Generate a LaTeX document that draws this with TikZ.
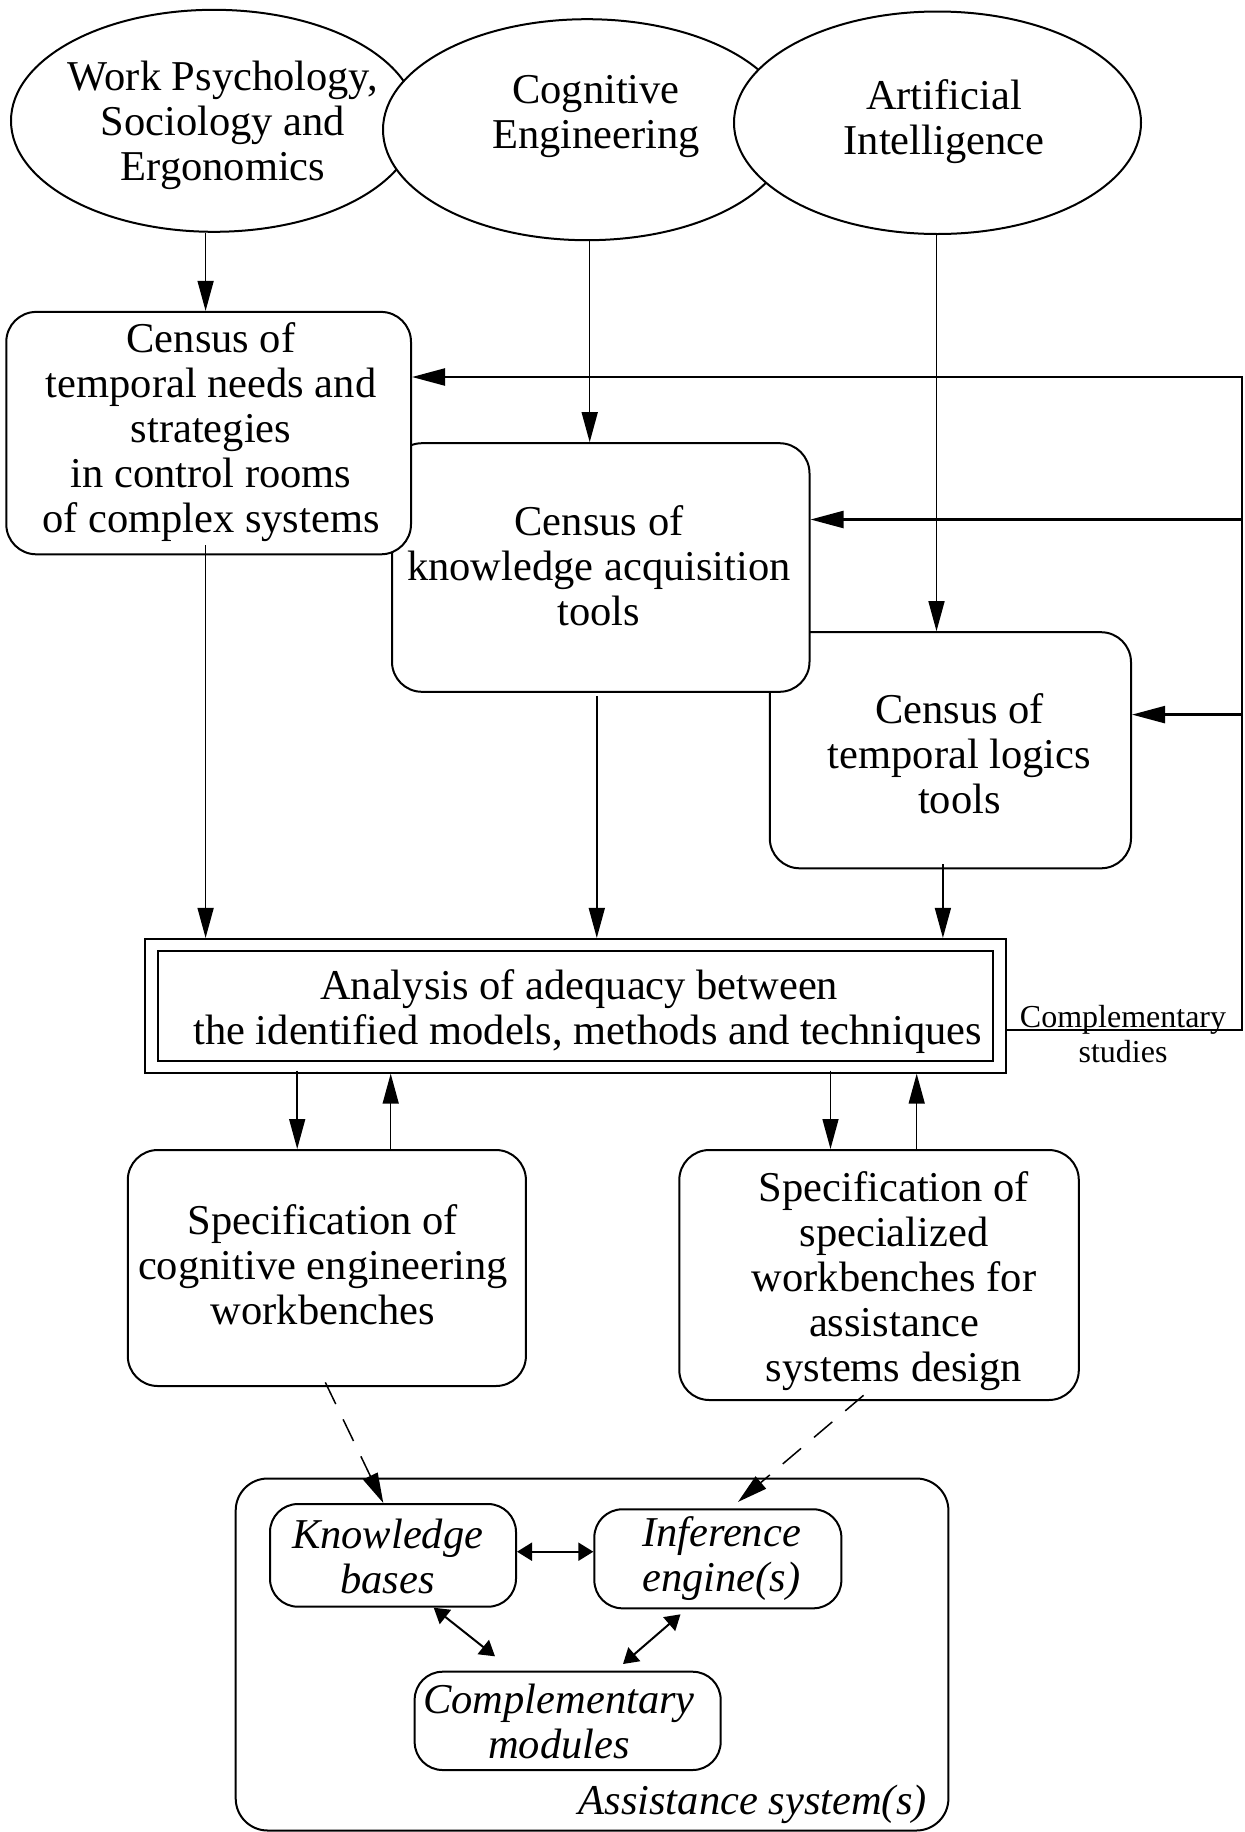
\documentclass[tikz,border=0pt]{standalone}
\usepackage{fontspec}
\setmainfont{Liberation Serif}
\usetikzlibrary{arrows.meta,shapes.geometric}
\begin{document}
\begin{tikzpicture}[x=1pt,y=-1pt,
  ell/.style={ellipse,draw,line width=2pt,fill=white,inner sep=0pt},
  boxr/.style={rectangle,draw,line width=2pt,rounded corners=30pt,fill=white,inner sep=0pt},
  boxs/.style={rectangle,draw,line width=2pt,rounded corners=28pt,fill=white,inner sep=0pt},
  boxsq/.style={rectangle,draw,line width=2pt,inner sep=0pt},
  txt/.style={align=center,font=\fontsize{42.5}{45}\selectfont,inner sep=0pt,yshift=-4pt,
    execute at begin node=\strut,execute at end node=\strut},
  itxt/.style={txt,font=\fontsize{42.5}{45}\selectfont\itshape},
  labtxt/.style={inner sep=0pt,font=\fontsize{42.5}{45}\selectfont\itshape},
  smalltxt/.style={align=center,font=\fontsize{32}{35.7}\selectfont,inner sep=0pt,yshift=-2.5pt,
    execute at begin node=\strut,execute at end node=\strut},
  arr/.style={line width=1.5pt,-{Triangle[length=30pt,width=16pt]}},
  fb/.style={line width=2.3pt,-{Triangle[length=33pt,width=17pt]}},
  dbl/.style={line width=2pt,{Triangle[length=15pt,width=18pt]}-{Triangle[length=15pt,width=18pt]}},
  dsh/.style={line width=1.5pt,dash pattern=on 24pt off 17pt,-{Triangle[length=30pt,width=16pt]}}
]
\useasboundingbox (0,0) rectangle (1245,1832);

% ellipses
\node[ell,minimum width=406pt,minimum height=222pt] (e1) at (214,120.8) {};
\node[txt] (e1t) at (223,123.8) {Work Psychology,\\Sociology and\\Ergonomics};
\node[ell,minimum width=408pt,minimum height=221pt] (e2) at (587,129.7) {};
\node[txt] (e2t) at (596,115) {Cognitive\\Engineering};
\node[ell,minimum width=407pt,minimum height=222.5pt] (e3) at (937.5,122.75) {};
\node[txt] (e3t) at (944,119.8) {Artificial\\Intelligence};

% census boxes
\node[boxr,minimum width=361.2pt,minimum height=236.1pt] (c3) at (950.4,750.25) {};
\node[txt] (c3t) at (959.5,756.15) {Census of\\temporal logics\\tools};
\node[boxr,minimum width=417.5pt,minimum height=248.6pt] (c2) at (600.75,567.5) {};
\node[txt] (c2t) at (599,568.65) {Census of\\knowledge acquisition\\tools};
\node[boxr,minimum width=404.7pt,minimum height=242.4pt] (c1) at (208.65,433.1) {};
\node[txt] (c1t) at (211,430.5) {Census of\\temporal needs and\\strategies\\in control rooms\\of complex systems};

% analysis
\node[boxsq,minimum width=860.5pt,minimum height=133.7pt] (an) at (575.55,1005.8) {};
\node[boxsq,minimum width=834.2pt,minimum height=110pt] (ani) at (575.5,1006) {};
\node[txt] (ant) at (579.2,1010.2) {Analysis of adequacy between\\\hspace*{16.8pt}the identified models, methods and techniques};
\node[smalltxt] (cs) at (1123,1036.7) {Complementary\\studies};

% specification boxes
\node[boxr,minimum width=398.1pt,minimum height=236pt] (s1) at (326.85,1268) {};
\node[txt] (s1t) at (322.8,1267.2) {Specification of\\cognitive engineering\\workbenches};
\node[boxr,minimum width=399.5pt,minimum height=250pt] (s2) at (879.05,1275) {};
\node[txt] (s2t) at (894,1278.8) {Specification of\\specialized\\workbenches for\\assistance\\systems design};

% assistance system
\node[boxr,rounded corners=32pt,minimum width=712.7pt,minimum height=352pt] (as) at (592.05,1654.5) {};
\node[labtxt,anchor=base east] (ast) at (927,1814) {Assistance system(s)};
\node[boxs,minimum width=246pt,minimum height=102.7pt] (kb) at (393,1555.35) {};
\node[itxt] (kbt) at (387.7,1559.35) {Knowledge\\bases};
\node[boxs,minimum width=247pt,minimum height=99pt] (ie) at (717.85,1558.8) {};
\node[itxt] (iet) at (721.5,1556.8) {Inference\\engine(s)};
\node[boxs,minimum width=306pt,minimum height=98.3pt] (cm) at (567.65,1720.85) {};
\node[itxt] (cmt) at (559,1723.5) {Complementary\\modules};

% x positions of vertical connectors
\coordinate (xa) at (205.6,0);
\coordinate (xb) at (589.7,0);
\coordinate (xc) at (936.5,0);
\coordinate (xd) at (596.8,0);
\coordinate (xe) at (942.9,0);
\coordinate (xf) at (297.2,0);
\coordinate (xg) at (390.7,0);
\coordinate (xh) at (830.5,0);
\coordinate (xi) at (916.7,0);

\draw[arr] (e1.south -| xa) -- (c1.north -| xa);
\draw[arr] (e2.south -| xb) -- (c2.north -| xb);
\draw[arr] (e3.south -| xc) -- (c3.north -| xc);
\draw[arr] ([yshift=10pt]c1.south -| xa) -- (an.north -| xa);
\draw[arr] ([yshift=-3pt]c2.south -| xd) -- (an.north -| xd);
\draw[arr] ([yshift=5pt]c3.south -| xe) -- (an.north -| xe);

\draw[arr] ([yshift=3pt]an.south -| xf) -- (s1.north -| xf);
\draw[arr] (s1.north -| xg) -- (an.south -| xg);
\draw[arr] ([yshift=3pt]an.south -| xh) -- (s2.north -| xh);
\draw[arr] (s2.north -| xi) -- (an.south -| xi);

% feedback ("complementary studies")
\coordinate (rt) at (1242,377);
\coordinate (r2) at (1242,519.5);
\coordinate (r3) at (1242,714.6);
\coordinate (rb) at (1242,1030);
\draw[fb] ([yshift=-24.2pt]an.east) -- (rb) -- (rt) -- (rt -| c1.east);
\draw[fb] (r2) -- (r2 -| c2.east);
\draw[fb] (r3) -- (r3 -| c3.east);

% dashed
\draw[dsh] ([xshift=-1.5pt,yshift=4.6pt]s1.south) -- ([xshift=-9.7pt]kb.north);
\draw[dsh] ([xshift=-15.5pt,yshift=5.7pt]s2.south) -- ([xshift=20.15pt,yshift=6.4pt]ie.north);

% inner double arrows
\draw[dbl] ([yshift=3.65pt]kb.east) -- ([yshift=3.65pt]kb.east -| ie.west);
\draw[dbl] ([xshift=40.7pt]kb.south) -- ([xshift=-72.65pt,yshift=14.4pt]cm.north);
\draw[dbl] ([xshift=-37.35pt,yshift=-5pt]ie.south) -- ([xshift=55.35pt,yshift=6.7pt]cm.north);
\end{tikzpicture}
\end{document}
